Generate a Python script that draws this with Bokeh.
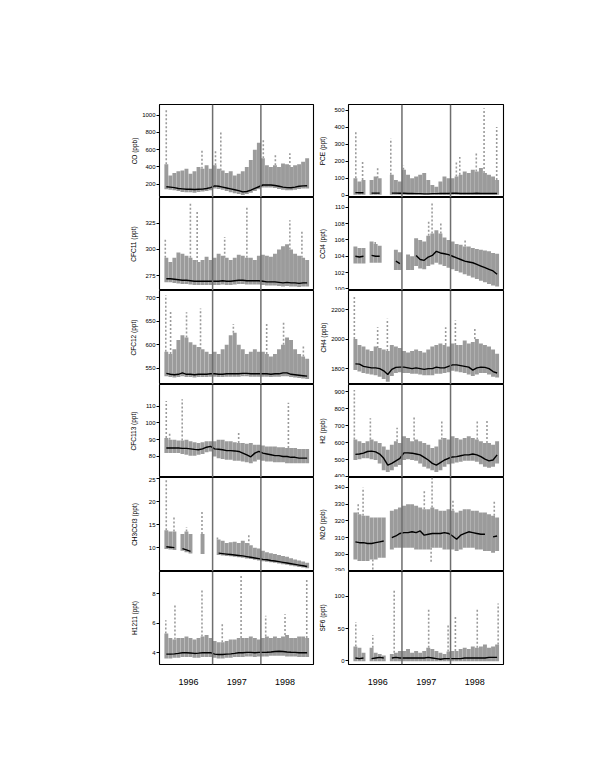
import math
from bokeh.plotting import figure
from bokeh.layouts import column, row
from bokeh.models import Span, FixedTicker, Range1d, ColumnDataSource
from bokeh.embed import file_html
from bokeh.resources import INLINE

N = float("nan")

months = [1996 + (i + 0.5) / 12 for i in range(36)]
year_lines = [1997, 1998]
year_ticks = [1996.5, 1997.5, 1998.5]
year_labels = ["1996", "1997", "1998"]

# ---------------- CO (ppb)
co_base = [170,165,160,150,145,140,140,138,140,142,150,160, 180,175,165,155,145,135,125,110,115,130,150,170, 190,192,190,185,175,165,160,158,165,175,180,182]
co_hi = [430,300,330,350,360,380,320,350,400,380,420,380, 420,380,360,330,350,300,320,350,400,480,600,680, 500,420,400,420,400,440,430,400,420,430,460,500]
co_lo = [140,135,130,120,110,105,105,100,110,115,120,130, 150,145,135,120,105,95,85,75,85,100,120,140, 160,160,160,155,145,135,130,128,135,145,150,150]
co_sp_t = [1996.04, 1996.78, 1997.06, 1997.17, 1998.05, 1998.3, 1998.6]
co_sp_v = [1060, 612, 592, 805, 717, 560, 560]

# ---------------- CFC11 (ppt)
cfc11_base = [272,272,271.5,271,270.5,270.5,270,269.5,269.5,269.5,269.5,269.5, 269.5,269.5,270,269.5,269.5,270,270.5,270.5,270,270,270,270, 269.5,269,269,269,268.5,268,268.5,268,268,267.5,268,268]
cfc11_hi = [292,288,292,297,296,294,292,290,288,290,293,290, 292,296,294,292,290,292,295,294,292,292,290,294, 295,294,293,296,300,303,305,300,296,294,292,290]
cfc11_lo = [268.5,268.5,268,267.5,267,267,266.5,266,266,266,266,266, 266,266,266.5,266,266,266.5,267,267,266.5,266.5,266.5,266.5, 266,265.5,265.5,265.5,265,264.5,265,264.5,264.5,264,264.5,264.5]
cfc11_sp_t = [1996.02, 1996.54, 1996.68, 1997.25, 1997.71, 1998.6, 1998.85]
cfc11_sp_v = [310, 345, 337, 312, 340, 328, 317]

# ---------------- CFC12 (ppt)
cfc12_base = [539,537,536,537,540,537,537,536,537,537,537,538, 538,537,537,538,538,538,538,539,539,538,538,538, 538,538,537,538,538,540,540,537,536,535,534,533]
cfc12_hi = [585,580,590,610,620,615,605,600,595,590,585,580, 585,580,590,600,620,625,600,590,580,585,590,585, 585,580,575,580,590,600,615,610,590,580,575,570]
cfc12_lo = [533,531,530,531,533,531,531,530,531,531,531,532, 532,531,531,532,532,532,532,533,533,532,532,532, 532,532,531,532,532,533,533,531,530,529,528,527]
cfc12_sp_t = [1996.03, 1996.13, 1996.46, 1996.75, 1997.43, 1998.12, 1998.47, 1998.88]
cfc12_sp_v = [705, 670, 669, 677, 644, 644, 648, 600]

# ---------------- CFC113 (ppt)
cfc113_base = [85,85,85,85,84.8,84.8,84.5,84.2,84,84.5,85.5,86, 84.5,84.3,84,83.5,83.5,83.3,83,82,81,79.8,82,83, 82,81.5,81,80.5,80.5,80,80,79.5,79.5,79,79,79]
cfc113_hi = [91,90,90,89.5,89.5,90,89,88.5,88,88.5,89,89, 89,90,90,89,89,88.5,88,88,87.5,88,87,87, 86.5,86,86,86,85.5,85.5,85,85,85,84.5,84.5,84.5]
cfc113_lo = [82,82,82,82,81.5,81,80.5,80.5,81,81.5,82.5,83, 80,79,78.5,78,78,77.5,77.5,77,76.5,76,77,78, 77.5,77,77,76.5,76.5,76.5,76,76,76,76,76,76]
cfc113_sp_t = [1996.04, 1996.11, 1996.37, 1997.54, 1998.57]
cfc113_sp_v = [113, 94.5, 114, 94.5, 112]

# ---------------- CH3CCl3 (ppt)
mc_base = [10.2,10.1,10.0,N,9.8,9.5,9.2,N,N,9.0,N,N, N,8.8,8.7,8.6,8.5,8.4,8.3,8.2,8.05,7.9,7.75,7.6, 7.45,7.35,7.2,7.1,6.95,6.8,6.65,6.5,6.35,6.2,6.05,5.9]
mc_hi = [13.8,13.5,13.5,N,13.0,13.5,13.0,N,N,13.0,N,N, N,11.8,11.5,11.0,11.2,11.3,11.0,11.5,11.0,10.5,10.0,9.8, 9.3,9.0,8.8,8.6,8.4,8.2,8.0,7.7,7.4,7.2,7.0,6.7]
mc_lo = [9.7,9.6,9.5,N,9.3,9.0,8.7,N,N,8.6,N,N, N,8.4,8.3,8.2,8.1,8.0,7.9,7.8,7.65,7.5,7.35,7.2, 7.05,6.95,6.8,6.7,6.55,6.4,6.25,6.1,5.95,5.8,5.65,5.5]
mc_sp_t = [1996.04, 1996.2, 1996.46, 1996.78, 1997.1, 1997.75]
mc_sp_v = [24.8, 16.7, 14.5, 17.8, 12.5, 12.8]

# ---------------- H1211 (ppt)
h1211_base = [3.9,3.9,3.92,3.95,4.0,4.0,3.98,3.95,3.97,4.0,4.0,4.0, 3.9,3.88,3.88,3.9,3.92,3.95,4.0,4.0,4.02,4.02,4.0,4.02, 4.02,4.03,4.05,4.08,4.1,4.08,4.05,4.03,4.02,4.0,4.0,4.0]
h1211_hi = [5.3,5.0,4.9,5.0,5.0,5.1,5.0,4.9,5.0,5.1,5.2,5.0, 4.8,4.7,4.7,4.8,4.9,4.9,5.0,5.0,5.0,5.1,5.0,4.9, 5.0,5.1,5.0,5.1,5.0,5.1,5.2,5.0,5.0,5.1,5.1,5.0]
h1211_lo = [3.6,3.6,3.65,3.65,3.7,3.7,3.7,3.65,3.65,3.7,3.7,3.7, 3.65,3.6,3.6,3.65,3.65,3.7,3.7,3.7,3.75,3.75,3.7,3.75, 3.75,3.75,3.8,3.8,3.8,3.8,3.75,3.75,3.75,3.7,3.7,3.7]
h1211_sp_t = [1996.03, 1996.22, 1996.78, 1997.2, 1997.59, 1998.1, 1998.5, 1998.95]
h1211_sp_v = [6.2, 7.2, 8.3, 6.0, 9.26, 6.5, 6.6, 9.06]

# ---------------- PCE (ppt)
pce_base = [15,14,14,N,12,12,12,N,N,12,12,11, 11,10,10,9,9,8,8,9,9,10,10,10, 11,11,10,10,10,10,11,10,10,10,10,10]
pce_hi = [100,80,90,N,90,110,100,N,N,120,90,80, 150,120,100,110,120,130,90,60,50,80,110,100, 100,110,120,140,130,150,140,160,130,120,110,90]
pce_lo = [2,2,2,N,2,2,2,N,N,2,2,2, 2,2,2,2,2,2,2,2,2,2,2,2, 2,2,2,2,2,2,2,2,2,2,2,2]
pce_sp_t = [1996.05, 1996.19, 1996.5, 1996.77, 1997.03, 1998.12, 1998.19, 1998.53, 1998.69, 1998.95]
pce_sp_v = [373, 195, 165, 334, 175, 195, 225, 254, 511, 402]

# ---------------- CCl4 (ppt)
ccl4_base = [104.0,103.9,104.0,N,104.1,104.0,104.0,N,N,N,103.4,103.1, N,N,N,104.1,103.6,103.5,103.9,104.1,104.6,104.4,104.3,104.2, 104.0,103.8,103.6,103.4,103.3,103.2,103.0,102.8,102.6,102.4,102.2,101.8]
ccl4_hi = [105.2,105.0,105.0,N,105.8,105.5,105.3,N,N,N,104.8,104.5, N,104.2,104.0,106.2,106.0,105.8,106.5,106.8,107.2,106.8,106.3,106.0, 105.8,105.5,105.4,105.2,105.2,105.0,104.9,104.8,104.7,104.6,104.4,104.3]
ccl4_lo = [103.1,103.1,103.1,N,103.2,103.2,103.2,N,N,N,102.3,102.3, N,102.3,102.3,102.8,102.5,102.4,102.8,103.0,103.2,103.0,102.8,102.6, 102.4,102.2,102.0,101.8,101.6,101.4,101.2,101.0,100.8,100.6,100.4,100.3]
ccl4_sp_t = [1996.45, 1997.55, 1997.62, 1997.8, 1998.3]
ccl4_sp_v = [105.9, 108.3, 110.7, 108.0, 106.0]

# ---------------- CH4 (ppb)
ch4_base = [1832,1830,1815,1810,1805,1805,1800,1785,1760,1795,1808,1810, 1810,1805,1800,1805,1800,1795,1800,1800,1810,1805,1805,1815, 1825,1825,1820,1815,1810,1790,1805,1810,1808,1800,1780,1770]
ch4_hi = [2000,1960,1950,1930,1920,1950,1940,1930,1920,1960,1950,1940, 1920,1910,1920,1930,1920,1910,1930,1950,1960,1970,1960,1950, 1970,1960,1960,1990,1970,1980,2000,1970,1960,1950,1930,1900]
ch4_lo = [1790,1780,1770,1765,1760,1755,1745,1730,1710,1750,1770,1775, 1770,1770,1765,1765,1760,1755,1755,1755,1765,1765,1770,1775, 1785,1780,1775,1770,1760,1750,1760,1770,1770,1760,1745,1740]
ch4_sp_t = [1996.02, 1996.5, 1996.7, 1997.9, 1998.1, 1998.5]
ch4_sp_v = [2297, 2080, 2138, 2081, 2127, 2080]

# ---------------- H2 (ppb)
h2_base = [533,535,540,550,552,548,535,510,470,480,495,510, 542,542,540,535,530,515,500,480,470,485,500,510, 518,520,525,530,530,535,530,520,505,495,500,530]
h2_hi = [620,610,600,610,620,610,600,580,560,590,610,600, 640,630,610,620,610,600,590,570,580,620,630,620, 640,630,620,630,640,630,620,610,600,600,590,610]
h2_lo = [500,505,510,510,505,500,480,440,430,440,460,470, 500,505,500,495,480,460,450,440,430,440,460,475, 480,485,490,495,495,495,490,475,460,455,460,480]
h2_sp_t = [1996.02, 1996.35, 1996.9, 1997.25, 1997.82, 1998.55, 1998.75]
h2_sp_v = [911, 746, 690, 756, 737, 727, 730]

# ---------------- N2O (ppb)
n2o_base = [307.5,307,307,306.5,306.5,307,307.5,308,N,310,311,312.5, 313,313,313.5,313,314,311.5,312,312.5,312.5,312.5,313,312.5, 311,309,311.5,312.5,313.5,313,312.5,312,312,N,310.5,311]
n2o_hi = [325,324,323,323,322,322,322,322,N,326,327,328, 329,330,330,329,328,327,327,328,327,326,326,327, 326,325,326,327,327,326,326,325,325,324,323,322]
n2o_lo = [297,296,296,296,297,297,298,298,N,303,304,304, 304,304,304,303,303,303,303,304,304,304,303,303, 303,302,303,304,304,304,303,303,302,302,301,302]
n2o_sp_t = [1996.1, 1996.2, 1996.4, 1997.46, 1997.6, 1997.62, 1998.05, 1998.9]
n2o_sp_v = [331, 340, 291, 338, 295, 346, 333, 332]

# ---------------- SF6 (ppt)
sf6_base = [4,3,4,N,3,4,5,4,N,4,5,4, 4,4,4,4,4,4,5,4,3,2,3,3, 3,3,3,4,4,4,4,4,4,5,5,5]
sf6_hi = [22,20,12,N,20,12,10,8,N,10,12,15, 15,18,12,15,12,15,20,18,15,12,10,14, 15,15,18,20,18,22,20,22,25,20,22,25]
sf6_lo = [-1,-1,-1,N,-1,-1,-1,-1,N,-1,-1,-1, -1,-1,-1,-1,-1,-1,-1,-1,-1,-1,-1,-1, -1,-1,-1,-1,-1,-1,-1,-1,-1,-1,-1,-1]
sf6_sp_t = [1996.05, 1996.4, 1996.84, 1997.55, 1997.95, 1998.1, 1998.55, 1998.98]
sf6_sp_v = [60, 40, 109, 80, 55, 70, 80, 89]

panels_left = [
    ("CO (ppb)", co_base, co_lo, co_hi, co_sp_t, co_sp_v, (45, 1125), [200, 400, 600, 800, 1000]),
    ("CFC11 (ppt)", cfc11_base, cfc11_lo, cfc11_hi, cfc11_sp_t, cfc11_sp_v, (260.7, 349.8), [275, 300, 325]),
    ("CFC12 (ppt)", cfc12_base, cfc12_lo, cfc12_hi, cfc12_sp_t, cfc12_sp_v, (515.3, 715), [550, 600, 650, 700]),
    ("CFC113 (ppt)", cfc113_base, cfc113_lo, cfc113_hi, cfc113_sp_t, cfc113_sp_v, (67.5, 122.8), [80, 90, 100, 110]),
    ("CH3CCl3 (ppt)", mc_base, mc_lo, mc_hi, mc_sp_t, mc_sp_v, (4.8, 25.3), [10, 15, 20, 25]),
    ("H1211 (ppt)", h1211_base, h1211_lo, h1211_hi, h1211_sp_t, h1211_sp_v, (3.2, 9.5), [4, 6, 8]),
]
panels_right = [
    ("PCE (ppt)", pce_base, pce_lo, pce_hi, pce_sp_t, pce_sp_v, (-13.6, 533.7), [0, 100, 200, 300, 400, 500]),
    ("CCl4 (ppt)", ccl4_base, ccl4_lo, ccl4_hi, ccl4_sp_t, ccl4_sp_v, (99.8, 111.2), [100, 102, 104, 106, 108, 110]),
    ("CH4 (ppb)", ch4_base, ch4_lo, ch4_hi, ch4_sp_t, ch4_sp_v, (1692, 2330), [1800, 2000, 2200]),
    ("H2 (ppb)", h2_base, h2_lo, h2_hi, h2_sp_t, h2_sp_v, (397, 944), [400, 500, 600, 700, 800, 900]),
    ("N2O (ppb)", n2o_base, n2o_lo, n2o_hi, n2o_sp_t, n2o_sp_v, (289.8, 345.9), [290, 300, 310, 320, 330, 340]),
    ("SF6 (ppt)", sf6_base, sf6_lo, sf6_hi, sf6_sp_t, sf6_sp_v, (-6.2, 139), [0, 50, 100]),
]

frame_heights = [93, 93, 94, 93, 94, 93]
GREY = "#9b9b9b"
FONT = "Liberation Sans"


def make_panel(spec, col, r):
    label, base, lo, hi, sp_t, sp_v, yr, ticks = spec
    last = r == len(frame_heights) - 1
    p = figure(
        frame_width=154 if col == 0 else 155,
        frame_height=frame_heights[r],
        min_border_left=159 if col == 0 else 33,
        min_border_right=2 if col == 0 else 5,
        min_border_top=104 if r == 0 else 0,
        min_border_bottom=30 if last else 0,
        x_range=Range1d(1995.9, 1999.09),
        y_range=Range1d(*yr),
        x_axis_location="below" if last else None,
        output_backend="svg",
        toolbar_location=None,
        background_fill_color="white",
        border_fill_color="white",
    )
    p.grid.visible = False
    p.outline_line_color = "black"
    p.outline_line_width = 1.1

    # grey bands (monthly spread of the observations)
    src = ColumnDataSource(dict(t=months, lo=lo, hi=hi, base=base))
    p.vbar(x="t", width=1 / 12 * 0.97, bottom="lo", top="hi", source=src,
           fill_color=GREY, line_color=None)

    # spikes: dotted columns of isolated high/low values
    x0, y0, y1 = [], [], []
    for t, v in zip(sp_t, sp_v):
        i = min(35, max(0, int((t - 1996) * 12)))
        h, l = hi[i], lo[i]
        if math.isnan(h):
            h = base[i] if not math.isnan(base[i]) else v
            l = h
        x0.append(t)
        y0.append(h if v >= h else l)
        y1.append(v)
    p.segment(x0=x0, y0=y0, x1=x0, y1=y1, line_color=GREY, line_width=1.6,
              line_dash="2 2")

    p.line(x="t", y="base", source=src, line_color="black", line_width=1.4)

    for yl in year_lines:
        p.add_layout(Span(location=yl, dimension="height",
                          line_color="#6e6e6e", line_width=1.5))

    ya = p.yaxis[0]
    ya.ticker = FixedTicker(ticks=ticks)
    ya.axis_line_color = None
    ya.major_tick_out = 3
    ya.major_tick_in = 0
    ya.major_tick_line_color = "black"
    ya.minor_tick_line_color = None
    ya.major_label_standoff = 1
    ya.major_label_text_font = FONT
    ya.major_label_text_font_size = "6px"
    ya.major_label_text_color = "black"
    ya.axis_label = label
    ya.axis_label_text_font = FONT
    ya.axis_label_text_font_size = "6.5px"
    ya.axis_label_text_font_style = "normal"
    ya.axis_label_text_color = "black"
    nchar = max(len(str(t)) for t in ticks)
    ya.axis_label_standoff = max(0, int(round(14.6 - 3.34 * nchar)))

    if last:
        xa = p.xaxis[0]
        xa.ticker = FixedTicker(ticks=year_ticks)
        xa.major_label_overrides = {t: s for t, s in zip(year_ticks, year_labels)}
        xa.axis_line_color = None
        xa.major_tick_line_color = None
        xa.minor_tick_line_color = None
        xa.major_label_standoff = 8
        xa.major_label_text_font = FONT
        xa.major_label_text_font_size = "9px"
        xa.major_label_text_color = "black"
    return p


rows = []
for r in range(6):
    rows.append(row(make_panel(panels_left[r], 0, r), make_panel(panels_right[r], 1, r), spacing=0))
layout = column(*rows, spacing=0)

open("out.html", "w").write(file_html(layout, INLINE))
